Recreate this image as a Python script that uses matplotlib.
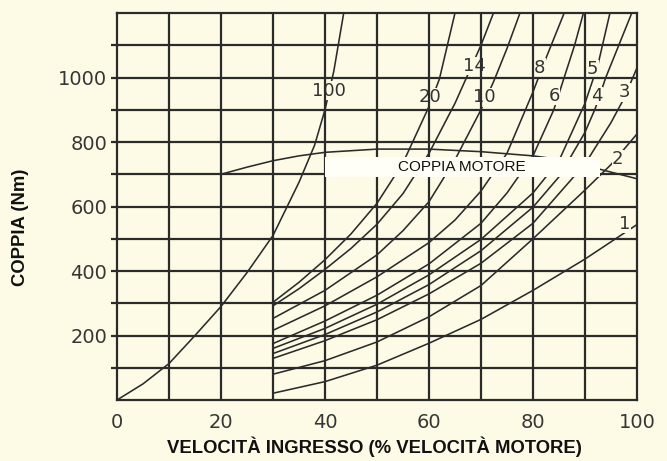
import matplotlib.pyplot as plt
from matplotlib.patches import Rectangle

bg = '#fdfbe6'
ink = '#2b2b2b'

# input speed (% motor speed) -> torque (Nm), one curve per label
x_100 = [0, 5, 10, 15, 20, 25, 30, 35, 38, 40, 41.7, 43.6]
y_100 = [0, 50, 113, 200, 290, 395, 510, 675, 790, 900, 1020, 1200]

x_20 = [30, 35, 40, 45, 50, 55, 60, 62, 65]
y_20 = [303, 365, 435, 515, 610, 735, 910, 995, 1200]

x_14 = [30, 35, 40, 45, 50, 55, 60, 65, 67.5, 70, 72.4]
y_14 = [292, 345, 405, 470, 545, 640, 765, 920, 1010, 1100, 1200]

x_10 = [30, 40, 50, 55, 60, 65, 70, 72.5, 75, 77.5]
y_10 = [253, 340, 450, 525, 615, 745, 900, 990, 1090, 1200]

x_8 = [30, 40, 50, 60, 65, 70, 75, 80, 82, 84, 86]
y_8 = [216, 292, 382, 488, 558, 648, 765, 955, 1040, 1120, 1200]

x_6 = [30, 40, 50, 60, 70, 75, 80, 84, 86, 88, 89.7]
y_6 = [175, 245, 325, 422, 548, 642, 757, 900, 1000, 1100, 1200]

x_5 = [30, 40, 50, 60, 70, 80, 85, 90, 92.5, 94.8]
y_5 = [160, 222, 297, 388, 498, 642, 742, 920, 1040, 1200]

x_4 = [30, 40, 50, 60, 70, 80, 85, 90, 92, 94, 97, 99]
y_4 = [144, 203, 273, 358, 463, 598, 692, 830, 905, 1000, 1120, 1200]

x_3 = [30, 40, 50, 60, 70, 80, 90, 95, 97.5, 100]
y_3 = [129, 184, 249, 329, 424, 548, 732, 860, 935, 1030]

x_2 = [30, 40, 50, 60, 70, 80, 90, 95, 100]
y_2 = [80, 122, 180, 258, 355, 500, 651, 730, 825]

x_1 = [30, 40, 50, 60, 70, 80, 90, 100]
y_1 = [21, 57, 108, 176, 250, 340, 437, 544]

x_motor = [20, 25, 30, 35, 40, 50, 60, 70, 80, 85, 90, 92.5, 100]
y_motor = [700, 722, 742, 757, 768, 778, 778, 770, 757, 746, 730, 717, 686]

curves = [(x_100, y_100), (x_20, y_20), (x_14, y_14), (x_10, y_10), (x_8, y_8),
          (x_6, y_6), (x_5, y_5), (x_4, y_4), (x_3, y_3), (x_2, y_2), (x_1, y_1)]

# curve labels and where they sit
lab_text = ['100', '20', '14', '10', '8', '6', '5', '4', '3', '2', '1']
lab_x = [40.7, 60.2, 68.7, 70.7, 81.3, 84.1, 91.5, 92.3, 97.6, 96.3, 97.6]
lab_y = [959, 938, 1036, 938, 1031, 943, 1026, 943, 954, 747, 546]

fig = plt.figure(figsize=(6.67, 4.61), dpi=100, facecolor=bg)
ax = fig.add_axes([0.1754, 0.1323, 0.7796, 0.8395])
ax.set_facecolor(bg)
ax.set_xlim(0, 100)
ax.set_ylim(0, 1200)

for gx in range(10, 100, 10):
    ax.axvline(gx, color=ink, lw=1.6, zorder=4)
for gy in range(100, 1200, 100):
    ax.axhline(gy, color=ink, lw=1.6, zorder=4)
for s in ax.spines.values():
    s.set_color(ink)
    s.set_linewidth(1.6)
    s.set_zorder(4)

for cx, cy in curves:
    ax.plot(cx, cy, color=ink, lw=1.15, zorder=2)
ax.plot(x_motor, y_motor, color=ink, lw=1.15, zorder=2)

for t, lx, ly in zip(lab_text, lab_x, lab_y):
    ax.text(lx, ly, t, ha='center', va='center', fontsize=13, color='#333333',
            zorder=3, bbox=dict(facecolor=bg, edgecolor='none', pad=0.3))

ax.add_patch(Rectangle((40, 691), 52.8, 62, facecolor='#fffff7', edgecolor='none', zorder=5))
ax.text(66.3, 722, 'COPPIA MOTORE', ha='center', va='center', fontsize=11,
        family='Liberation Sans', color='#111111', zorder=6)

ax.set_xticks([0, 20, 40, 60, 80, 100])
ax.set_yticks([200, 400, 600, 800, 1000])
ax.set_yticks([100, 300, 500, 700, 900, 1100], minor=True)
ax.tick_params(axis='x', length=0, pad=9, labelsize=14, labelcolor='#363636')
ax.tick_params(axis='y', which='both', length=4, width=1.6, color=ink, pad=3,
               labelsize=14, labelcolor='#363636')

fig.text(0.5615, 0.030, 'VELOCITÀ INGRESSO (% VELOCITÀ MOTORE)', ha='center', va='center',
         fontsize=13.3, fontweight='bold', family='Liberation Sans', color='#111111')
fig.text(0.030, 0.5065, 'COPPIA (Nm)', ha='center', va='center', rotation=90,
         fontsize=13.3, fontweight='bold', family='Liberation Sans', color='#111111')

fig.savefig('out.png', dpi=100, facecolor=bg)
